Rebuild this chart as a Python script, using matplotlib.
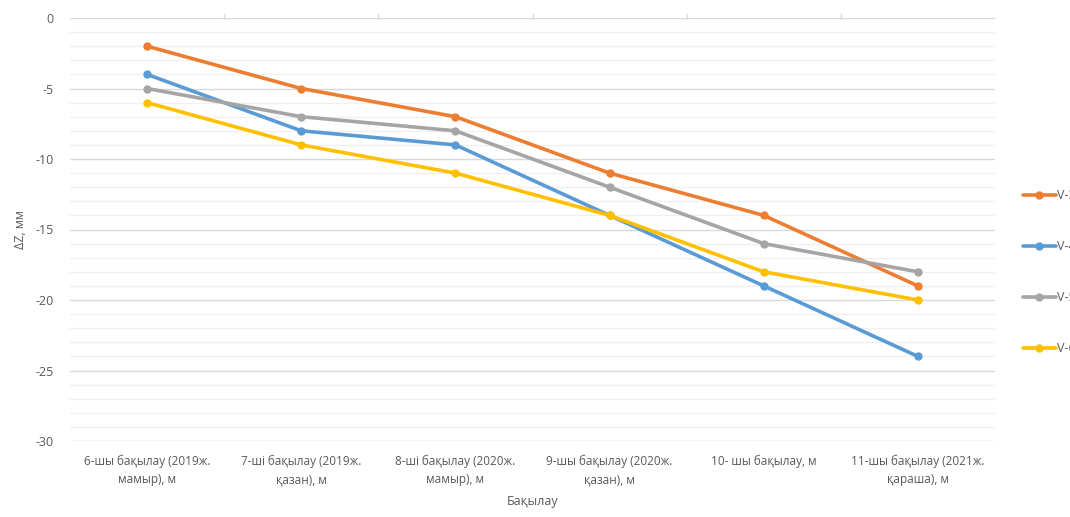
import matplotlib.pyplot as plt
from matplotlib.ticker import MultipleLocator

categories = [
    "6-шы бақылау (2019ж.\nмамыр), м",
    "7-ші бақылау (2019ж.\nқазан), м",
    "8-ші бақылау (2020ж.\nмамыр), м",
    "9-шы бақылау (2020ж.\nқазан), м",
    "10- шы бақылау, м",
    "11-шы бақылау (2021ж.\nқараша), м",
]
series_names = ["V-3", "V-4", "V-5", "V-6"]
v3 = [-2, -5, -7, -11, -14, -19]
v4 = [-4, -8, -9, -14, -19, -24]
v5 = [-5, -7, -8, -12, -16, -18]
v6 = [-6, -9, -11, -14, -18, -20]
colors = ["#ED7D31", "#5B9BD5", "#A5A5A5", "#FFC000"]

plt.rcParams['font.family'] = ['Open Sans', 'DejaVu Sans']
text_color = "#595959"

fig = plt.figure(figsize=(10.7, 5.17), dpi=100)
ax = fig.add_axes([70 / 1070, 1 - 441 / 517, 925 / 1070, 423 / 517])

x = list(range(len(categories)))
for name, vals, c in zip(series_names, [v3, v4, v5, v6], colors):
    ax.plot(x, vals, color=c, lw=2.6, marker='o', markersize=5, label=name,
            solid_capstyle='round', zorder=3)

ax.set_xlim(-0.5, len(categories) - 0.5)
ax.set_ylim(-30, 0)
ax.yaxis.set_major_locator(MultipleLocator(5))
ax.yaxis.set_minor_locator(MultipleLocator(1))
ax.grid(which='major', axis='y', color='#D9D9D9', lw=1.0)
ax.grid(which='minor', axis='y', color='#F0F0F0', lw=1.0)
ax.set_axisbelow(True)

for s in ax.spines.values():
    s.set_visible(False)

ax.set_xticks(x)
ax.set_xticklabels(categories, fontsize=8.5, color=text_color, linespacing=1.5)
ax.tick_params(axis='x', length=0, pad=10)
ax.tick_params(axis='y', which='both', length=0, labelsize=9, labelcolor=text_color, pad=12)
ax.set_yticklabels([f"{int(t)}" if t != 0 else "0" for t in ax.get_yticks()])

# category boundary ticks along the zero line
for b in range(1, len(categories)):
    ax.plot([b - 0.5, b - 0.5], [0, 0.25], color='#D9D9D9', lw=1, clip_on=False)

ax.set_ylabel("ΔZ, мм", fontsize=9, color=text_color, labelpad=6)
ax.set_xlabel("Бақылау", fontsize=9, color=text_color, labelpad=6)

# legend sits partly outside the canvas, as in the source image
fig.legend(loc='upper left', bbox_to_anchor=(1018 / 1070, 1 - 184 / 517),
           frameon=False, fontsize=9, labelcolor=text_color,
           handlelength=2.6, handletextpad=0.1, labelspacing=3.05,
           borderaxespad=0)

fig.savefig("out.png", dpi=100)
